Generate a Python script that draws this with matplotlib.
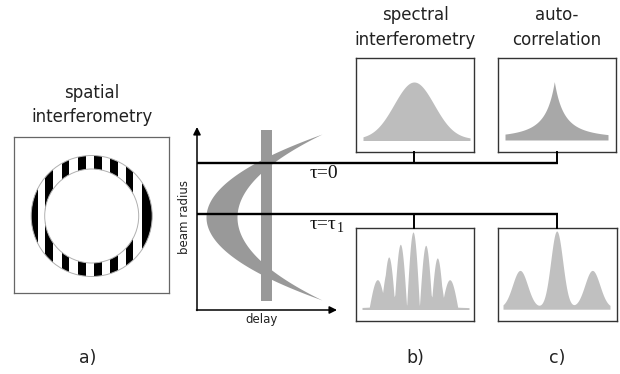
import numpy as np
import matplotlib
matplotlib.use("Agg")
import matplotlib.pyplot as plt
from matplotlib.patches import Rectangle, Wedge, Circle

plt.rcParams["font.family"] = ["DejaVu Sans"]

W, H = 620, 374

# a) spatial interferometry: fringe stripes across the ring (px from ring centre)
stripe_left = [-62, -46.7, -30, -13.4, 2.3, 18.3, 34.3, 50]
stripe_right = [-53.4, -38.4, -22.4, -5.7, 10, 26.6, 41.6, 62]
ring_outer = 60.5
ring_inner = 47

# pulse front (crescent) and reference pulse (bar) in the delay / beam radius plot
front_vertex_outer = 9
front_vertex_inner = 40
front_tip_delay = 125
front_vertex_radius = 93
front_half_span = 83
bar_delay = (64, 75)
bar_radius = (9, 180)
tau_radius = [147, 96]
tau_labels = ["\u03c4=0", "\u03c4=\u03c4"]
tau_subs = ["", "1"]

# b), c) spectra: peak centres, heights, widths (px inside each box)
spec_top_centres = [58]
spec_top_heights = [57]
spec_top_widths = [20]

acf_top_centres = [56.3]
acf_top_heights = [57]
acf_top_widths = [19]

spec_low_centres = [21.3, 32.7, 44.3, 57, 69.7, 81.3, 93.7]
spec_low_heights = [27, 49, 61, 73, 60, 48, 27]
spec_low_widths = [8.0, 6.1, 6.2, 6.3, 6.2, 6.1, 8.0]
spec_low_pedestal = (57, 3.0, 28)

acf_low_centres = [22, 58.7, 94.3]
acf_low_heights = [37.3, 76.7, 37.3]
acf_low_widths = [7.5, 6, 7.5]

fig = plt.figure(figsize=(W / 100, H / 100), dpi=100)


def px_axes(x0, y0, x1, y1, edge=None, lw=1.0):
    ax = fig.add_axes([x0 / W, 1 - y1 / H, (x1 - x0) / W, (y1 - y0) / H])
    ax.set_xlim(0, x1 - x0)
    ax.set_ylim(0, y1 - y0)
    ax.set_xticks([])
    ax.set_yticks([])
    for s in ax.spines.values():
        if edge is None:
            s.set_visible(False)
        else:
            s.set_color(edge)
            s.set_linewidth(lw)
    return ax


def spectrum(ax, centres, heights, widths, base, span, color, kind="gauss", pedestal=None):
    x = np.linspace(span[0], span[1], 800)
    y = np.zeros_like(x)
    for c, h, w in zip(centres, heights, widths):
        d = x - c
        if kind == "gauss":
            y += h * np.exp(-0.5 * (d / w) ** 2)
        elif kind == "lobe":
            # fringe lobe, w = half base width
            y += h * np.cos(np.pi * np.clip(d / w, -1, 1) / 2)
        else:
            y += h / (1 + np.abs(d) / w) ** 2
    if pedestal is not None:
        c, h, w = pedestal
        y += h * np.exp(-0.5 * ((x - c) / w) ** 2)
    ax.fill_between(x, base - 1.5, base + y, color=color, lw=0)


# a) ring with fringes
ax_ring = px_axes(14, 137, 169, 293, edge="#666666", lw=0.9)
ax_ring.set_xlim(14 - 91.7, 169 - 91.7)
ax_ring.set_ylim(216 - 293, 216 - 137)
annulus = Wedge((0, 0), ring_outer, 0, 360, width=ring_outer - ring_inner,
                transform=ax_ring.transData, facecolor="none", edgecolor="none")
ax_ring.add_patch(annulus)
for l, r in zip(stripe_left, stripe_right):
    rect = Rectangle((l, -ring_outer - 2), r - l, 2 * ring_outer + 4,
                     facecolor="black", edgecolor="none")
    ax_ring.add_patch(rect)
    rect.set_clip_path(annulus)
for rad in (ring_outer, ring_inner):
    ax_ring.add_patch(Circle((0, 0), rad, fill=False, edgecolor="#b0b0b0", lw=0.7))

# delay / beam radius diagram
ax_mid = px_axes(197, 128, 336, 310)
r = np.linspace(front_vertex_radius - front_half_span,
                front_vertex_radius + front_half_span, 300)
a_out = (front_tip_delay - front_vertex_outer) / front_half_span ** 2
a_in = (front_tip_delay - front_vertex_inner) / front_half_span ** 2
d_out = front_vertex_outer + a_out * (r - front_vertex_radius) ** 2
d_in = front_vertex_inner + a_in * (r - front_vertex_radius) ** 2
gray = "#999999"
ax_mid.fill_betweenx(r, d_out, d_in, color=gray, lw=0)
ax_mid.fill_between(bar_delay, bar_radius[0], bar_radius[1], color=gray, lw=0)

# spectra boxes
ax_b0 = px_axes(356, 58, 474, 152, edge="#333333")
spectrum(ax_b0, spec_top_centres, spec_top_heights, spec_top_widths, 13, (7, 114), "#bdbdbd")
ax_c0 = px_axes(498, 58, 616, 152, edge="#333333")
spectrum(ax_c0, acf_top_centres, acf_top_heights, acf_top_widths, 13.5, (7, 110), "#a8a8a8",
         kind="cusp")
ax_b1 = px_axes(356, 228, 474, 321, edge="#333333")
spectrum(ax_b1, spec_low_centres, spec_low_heights, spec_low_widths, 13, (6, 113), "#c0c0c0",
         kind="lobe", pedestal=spec_low_pedestal)
ax_c1 = px_axes(498, 228, 617, 321, edge="#333333")
spectrum(ax_c1, acf_low_centres, acf_low_heights, acf_low_widths, 13.3, (5, 112), "#c0c0c0")

# overlay: axes arrows, delay lines, connectors, labels
ov = fig.add_axes([0, 0, 1, 1])
ov.set_xlim(0, W)
ov.set_ylim(H, 0)
ov.axis("off")
ov.patch.set_alpha(0)
ov.set_zorder(5)

arrow = dict(arrowstyle="-|>", color="black", lw=1.1, mutation_scale=11, shrinkA=0, shrinkB=0)
ov.annotate("", xy=(197, 127), xytext=(197, 310.5), arrowprops=arrow)
ov.annotate("", xy=(337, 310), xytext=(196.5, 310), arrowprops=arrow)

serif = ["Liberation Serif", "DejaVu Serif"]
for rad, lab, sub, tops in zip(tau_radius, tau_labels, tau_subs, [(152, 152), (228, 228)]):
    y = 310 - rad
    ov.plot([197, 558], [y, y], color="black", lw=1.7, solid_capstyle="butt")
    ov.plot([414, 414], [y, tops[0]], color="black", lw=1.4)
    ov.plot([557, 557], [y, tops[1]], color="black", lw=1.4)
    ov.text(310, y + 10, lab, fontsize=14, family=serif, ha="left", va="center",
            color="#111111")
    if sub:
        ov.text(336.5, y + 14, sub, fontsize=10, family=serif, ha="left", va="center",
                color="#111111")

txt = dict(ha="center", va="center", color="#222222")
ov.text(92, 93, "spatial", fontsize=12, **txt)
ov.text(92, 117, "interferometry", fontsize=12, **txt)
ov.text(415, 15, "spectral", fontsize=12, **txt)
ov.text(415, 40, "interferometry", fontsize=12, **txt)
ov.text(557, 15, "auto-", fontsize=12, **txt)
ov.text(557, 40, "correlation", fontsize=12, **txt)
ov.text(185, 217, "beam radius", fontsize=8.5, rotation=90, **txt)
ov.text(262, 320, "delay", fontsize=8.5, **txt)
for x, lab in zip([88, 415, 557], ["a)", "b)", "c)"]):
    ov.text(x, 358, lab, fontsize=12.5, **txt)

fig.savefig("out.png", dpi=100, facecolor="white")
